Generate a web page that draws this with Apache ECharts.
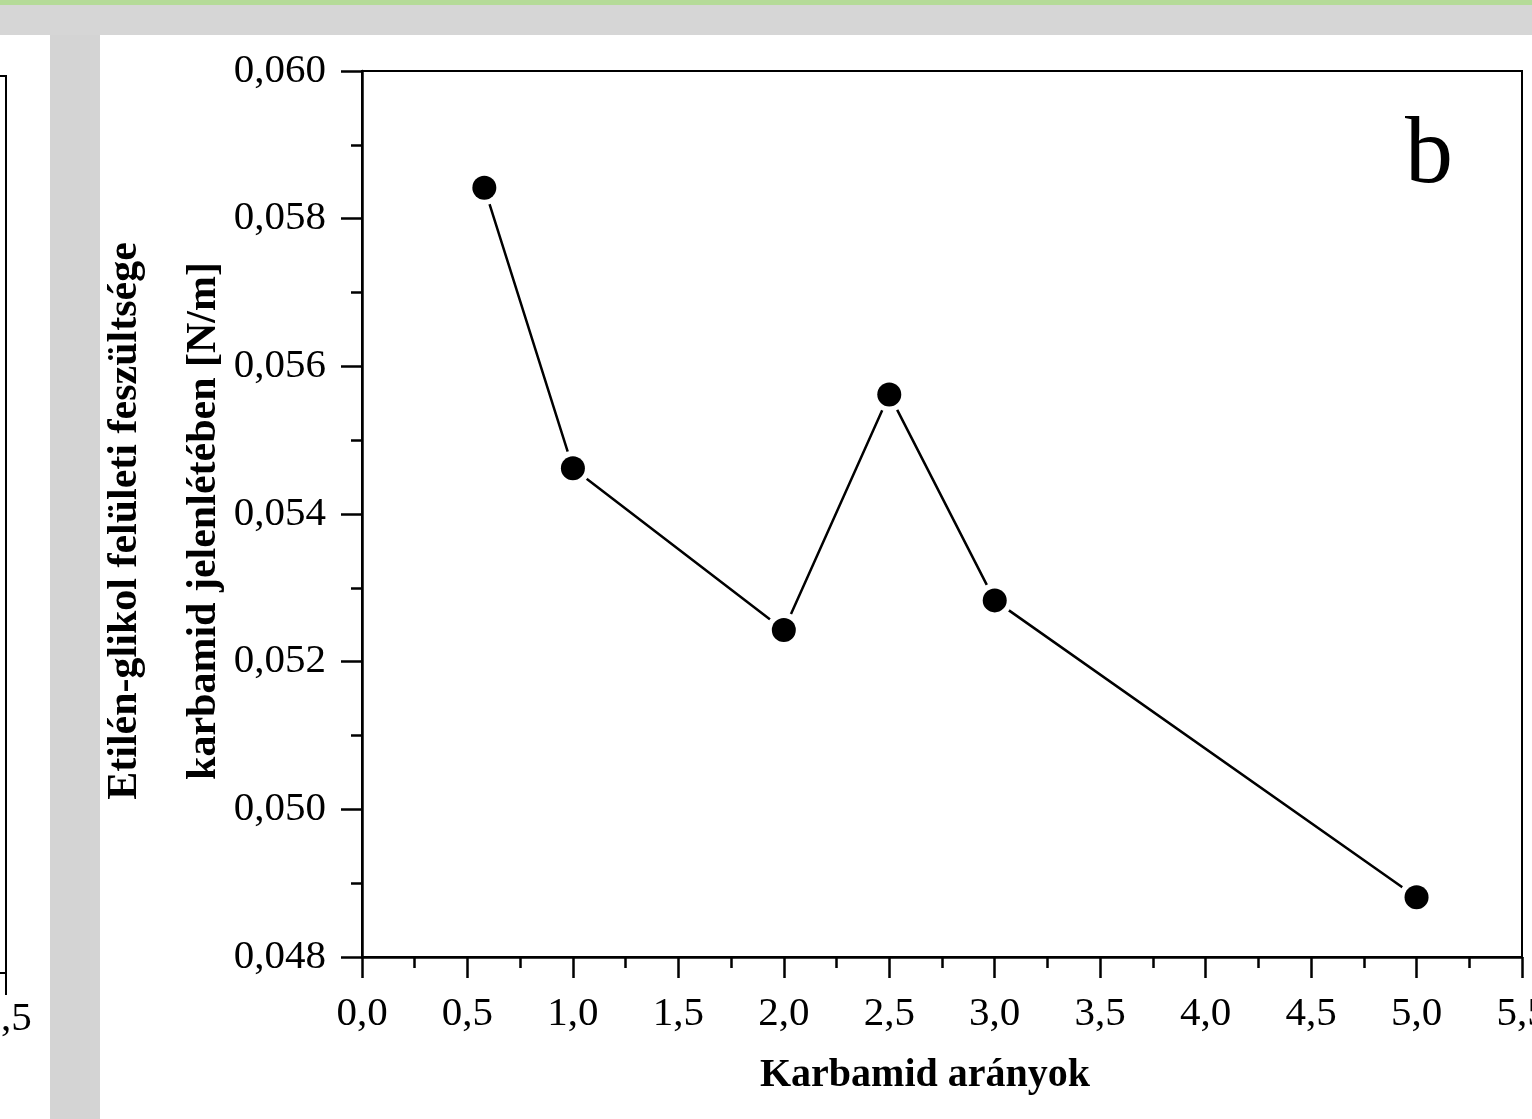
<!DOCTYPE html>
<html>
<head>
<meta charset="utf-8">
<script src="https://cdn.jsdelivr.net/npm/echarts@6/dist/echarts.min.js"></script>
<style>
html,body{margin:0;padding:0;background:#ffffff;}
#c{width:1532px;height:1119px;}
</style>
</head>
<body>
<div id="c"></div>
<script>
// Data
var ratios = [0.58, 1.0, 2.0, 2.5, 3.0, 5.0];
var tension = [0.05842, 0.05462, 0.05243, 0.05562, 0.05283, 0.04881];
var xTitle = 'Karbamid arányok';
var yTitle = 'Etilén-glikol felületi feszültsége\nkarbamid jelenlétében [N/m]';
var panelLetter = 'b';

var points = ratios.map(function (x, i) { return [x, tension[i]]; });
var serif = '"Liberation Serif", "Times New Roman", serif';

var chart = echarts.init(document.getElementById('c'), null, {renderer: 'canvas'});
chart.setOption({
  backgroundColor: '#ffffff',
  animation: false,
  grid: {left: 362, top: 71, right: 10, bottom: 162, outerBoundsMode: 'none', containLabel: false,
    show: true, borderColor: '#000', borderWidth: 2, backgroundColor: 'transparent'},
  graphic: [
    {type: 'rect', left: 0, top: 0, z: -10, shape: {width: 1532, height: 5}, style: {fill: '#b5db98'}},
    {type: 'rect', left: 0, top: 5, z: -10, shape: {width: 1532, height: 30}, style: {fill: '#d6d6d6'}},
    {type: 'rect', left: 50, top: 35, z: -10, shape: {width: 50, height: 1084}, style: {fill: '#d4d4d4'}},
    {type: 'line', z: -5, shape: {x1: 0, y1: 76, x2: 6, y2: 76}, style: {stroke: '#000', lineWidth: 2}},
    {type: 'line', z: -5, shape: {x1: 6, y1: 75, x2: 6, y2: 995}, style: {stroke: '#000', lineWidth: 2}},
    {type: 'line', z: -5, shape: {x1: 0, y1: 973, x2: 6, y2: 973}, style: {stroke: '#000', lineWidth: 2}},
    {type: 'text', z: -5, x: 6, y: 1019, style: {text: '5,5', font: '41px ' + serif, fill: '#000', textAlign: 'center', textVerticalAlign: 'middle'}},
    {type: 'text', z: 10, x: 1405, y: 157, style: {text: panelLetter, font: '96px ' + serif, fill: '#000', textAlign: 'left', textVerticalAlign: 'middle'}}
  ],
  xAxis: {
    type: 'value', min: 0, max: 5.5, interval: 0.5,
    name: xTitle, nameLocation: 'middle', nameGap: 99,
    nameTextStyle: {fontFamily: serif, fontSize: 40, fontWeight: 'bold', color: '#000', padding: [0, 34, 0, 0]},
    axisLine: {show: true, onZero: false, lineStyle: {color: '#000', width: 2.5}},
    axisTick: {show: true, inside: false, length: 21, lineStyle: {color: '#000', width: 2.5}},
    minorTick: {show: true, splitNumber: 2, length: 11, lineStyle: {color: '#000', width: 2.5}},
    splitLine: {show: false},
    axisLabel: {fontFamily: serif, fontSize: 41, color: '#000', margin: 37, showMaxLabel: true, hideOverlap: false,
      formatter: function (v) { return v.toFixed(1).replace('.', ','); }}
  },
  yAxis: {
    type: 'value', min: 0.048, max: 0.060, interval: 0.002,
    name: yTitle, nameLocation: 'middle', nameRotate: 90, nameGap: 118, nameMoveOverlap: false,
    nameTextStyle: {fontFamily: serif, fontSize: 42, fontWeight: 'bold', color: '#000', lineHeight: 79, padding: [0, 14, 0, 0]},
    axisLine: {show: true, onZero: false, lineStyle: {color: '#000', width: 2.5}},
    axisTick: {show: true, inside: false, length: 21, lineStyle: {color: '#000', width: 2.5}},
    minorTick: {show: true, splitNumber: 2, length: 11, lineStyle: {color: '#000', width: 2.5}},
    splitLine: {show: false},
    axisLabel: {fontFamily: serif, fontSize: 41, color: '#000', margin: 36,
      formatter: function (v) { return v.toFixed(3).replace('.', ','); }}
  },
  series: [
    {
      type: 'line', data: points, symbol: 'circle', symbolSize: 35,
      itemStyle: {color: '#ffffff', borderWidth: 0},
      lineStyle: {color: '#000', width: 2.5}, z: 2
    },
    {
      type: 'scatter', data: points, symbol: 'circle', symbolSize: 24,
      itemStyle: {color: '#000', opacity: 1}, z: 3
    }
  ]
});
</script>
</body>
</html>
